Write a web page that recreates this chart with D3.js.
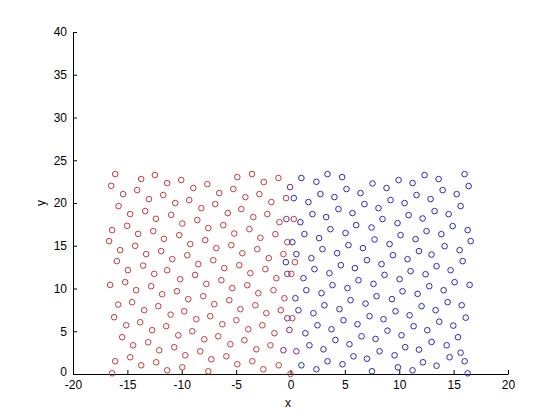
<html>
  <head>
    <meta charset="utf-8">
    <title>particles x-y</title>
    <style>
      body { margin: 0; background: white; }
      text { font-family: "Liberation Sans", Arial, sans-serif; }
    </style>
  </head>
  <body>
    <script type="text/javascript" src="https://d3js.org/d3.v7.min.js"></script>
    <script type="text/javascript">

    // red group (left side)
    var redX = [-16.12,-12.47,-13.73,-11.34,-16.49,-15.39,-14.10,-11.70,-13.02,-15.81,-14.74,-13.36,-12.38,-10.97,-15.02,-16.40,-14.01,-12.62,-11.64,-16.68,
                -14.28,-15.66,-13.27,-11.89,-10.87,-15.97,-14.95,-13.55,-11.34,-10.05,-8.94,-7.65,-4.89,-3.54,-2.46,-6.55,-5.26,-4.15,-2.86,-10.60,
                -9.31,-8.20,-6.92,-4.52,-5.77,-3.42,-2.13,-9.95,-8.57,-7.56,-6.18,-3.78,-5.17,-10.23,-2.77,-7.84,-9.22,-6.82,-5.44,-3.05,
                -4.43,-9.49,-7.10,-8.48,-6.09,-4.71,-2.31,-1.11,-0.41,-1.76,0.30,-1.02,-1.39,-0.29,-0.65,-2.00,0.40,-12.53,-16.58,-15.20,
                -14.19,-12.81,-11.80,-15.85,-14.56,-13.45,-12.16,-16.22,-11.02,-15.11,-13.82,-12.72,-11.43,-15.48,-14.47,-13.08,-12.07,-16.12,-14.74,-13.73,
                -12.35,-11.34,-16.40,-8.78,-3.69,-10.14,-7.74,-6.36,-10.44,-5.35,-3.97,-2.96,-9.40,-8.02,-7.01,-5.63,-9.77,-4.61,-3.23,-2.22,
                -8.66,-7.38,-6.27,-4.98,-2.59,-3.88,-9.03,-10.32,-7.93,-6.64,-4.24,-5.53,-10.69,-8.30,-9.68,-3.14,-5.90,-7.28,-3.51,-9.95,
                -4.89,-7.56,-2.50,0.08,-1.30,-1.57,-0.56,-0.89,0.17,-1.48,-1.85,-1.08,0.00];
    var redY = [23.38,23.27,22.80,22.33,22.01,21.04,21.51,20.93,20.46,19.64,18.70,19.05,18.15,18.62,17.33,16.83,16.39,16.71,15.81,15.54,
                14.99,14.49,14.02,14.37,13.43,13.20,12.14,12.68,12.14,22.68,21.75,22.21,23.03,23.38,22.45,21.16,21.63,20.69,21.04,19.99,
                20.34,19.40,19.87,19.29,18.82,18.35,18.70,17.60,18.00,17.06,17.41,16.94,16.43,16.24,15.93,15.66,15.19,14.72,15.07,14.60,
                14.13,13.90,13.31,12.85,12.38,12.73,12.26,22.92,20.57,20.11,18.12,17.76,16.36,15.42,14.02,13.55,13.08,11.71,10.42,10.74,
                9.80,10.27,9.33,8.12,8.40,7.46,7.93,6.64,6.94,5.70,6.05,5.12,5.59,4.30,3.36,3.71,2.78,1.49,1.96,1.02,
                1.37,0.43,0.08,11.59,11.79,11.09,10.54,10.97,9.68,10.04,10.39,9.45,8.75,9.10,8.16,8.63,7.34,7.58,8.04,7.11,
                6.41,6.76,5.82,6.29,5.70,5.23,5.00,4.53,4.06,4.41,3.95,3.48,3.13,2.66,2.19,2.89,2.07,1.72,1.49,0.78,
                1.14,0.32,0.55,11.71,11.21,9.80,8.86,7.46,6.52,4.77,3.36,1.02,0.00];

    // blue group (right side)
    var blueX = [1.00,2.38,3.40,4.75,5.15,6.44,2.75,4.04,0.30,1.65,4.41,5.70,2.02,3.28,0.91,6.04,3.67,5.06,1.28,2.63,
                 0.17,5.33,6.66,2.94,4.29,0.54,1.92,-0.43,4.63,5.92,2.20,7.54,8.83,9.94,11.22,12.33,13.62,16.01,16.38,13.99,
                 15.28,11.59,12.88,6.80,9.20,10.49,8.09,15.64,13.25,10.86,12.15,14.54,8.46,14.91,9.84,7.45,12.51,16.29,13.87,10.12,
                 7.73,11.50,16.57,14.17,9.11,12.97,11.81,9.42,15.55,7.03,10.76,8.37,15.83,13.43,14.72,3.58,1.19,6.25,3.86,5.24,
                 1.46,2.85,0.45,5.52,3.12,0.73,2.11,4.50,4.87,2.48,6.16,1.37,3.77,6.53,4.13,1.74,5.42,3.03,5.79,3.40,
                 1.00,2.38,4.78,8.65,10.03,11.04,12.42,7.63,12.76,15.09,16.47,10.30,11.69,14.08,7.91,9.33,6.90,12.05,14.45,15.74,
                 9.66,13.34,10.95,7.27,8.55,16.11,13.68,11.32,14.97,8.92,12.58,10.21,7.82,15.40,12.97,14.36,10.55,11.81,8.19,15.64,
                 9.57,14.63,7.03,12.18,16.01,13.43,9.88,11.22,7.49,16.29];
    var blueY = [22.92,22.48,23.38,23.03,21.63,21.16,21.04,20.69,20.57,20.11,19.29,18.82,18.70,18.35,17.76,17.41,16.94,16.48,16.36,15.89,
                 15.42,15.07,14.72,14.60,14.13,14.02,13.55,13.08,12.73,12.38,12.26,22.28,21.75,22.68,22.33,23.27,22.80,23.38,21.98,21.51,
                 21.04,20.93,20.46,19.87,20.34,19.99,19.40,19.64,19.05,18.58,18.19,18.70,18.12,17.30,17.65,17.13,16.71,16.83,16.36,16.24,
                 15.73,15.77,15.54,14.95,15.19,13.97,14.37,13.90,14.49,13.31,13.43,12.85,13.20,12.61,12.14,11.79,11.21,10.97,10.39,10.04,
                 9.80,9.45,8.86,8.63,8.04,7.46,7.11,7.58,6.29,5.70,5.82,4.77,5.23,4.41,3.98,3.36,3.48,2.89,2.07,1.49,
                 1.02,0.55,1.14,11.59,11.09,12.03,11.67,10.54,10.27,10.74,10.42,9.68,9.37,9.80,9.10,8.75,8.23,7.93,8.40,8.04,
                 7.34,7.46,6.87,6.76,6.41,6.59,6.12,5.59,5.66,5.07,5.12,4.53,4.10,4.30,3.75,3.36,3.13,2.85,2.66,2.49,
                 2.19,1.96,1.79,1.37,1.49,0.97,0.78,0.43,0.32,0.08];

    // points on the interface that came out purple
    var mixX = [-0.04,-0.38,-0.29,-0.29,-0.10,-0.65,0.54];
    var mixY = [21.86,18.12,11.71,6.52,5.15,2.78,2.66];

    var xTicks = [-20,-15,-10,-5,0,5,10,15,20];
    var yTicks = [0,5,10,15,20,25,30,35,40];

    var w = 560;
    var h = 420;
    var margin = {top: 32, right: 52, bottom: 46, left: 73};

    var svg = d3.select("body")
                .append("svg")
                .attr("width", w)
                .attr("height", h)
                .style("background", "white");

    var xScale = d3.scaleLinear()
                   .domain([-20, 20])
                   .range([margin.left, w - margin.right]);
    var yScale = d3.scaleLinear()
                   .domain([0, 40])
                   .range([h - margin.bottom, margin.top]);

    // plain hyphen for negatives, like the original
    var fmt = function(d) { return String(d); };

    var xAxis = d3.axisBottom(xScale)
                  .tickValues(xTicks)
                  .tickFormat(fmt)
                  .tickSizeInner(-4)
                  .tickSizeOuter(0)
                  .tickPadding(6);
    var yAxis = d3.axisLeft(yScale)
                  .tickValues(yTicks)
                  .tickFormat(fmt)
                  .tickSizeInner(-4)
                  .tickSizeOuter(0)
                  .tickPadding(6);

    var gx = svg.append("g")
                .attr("transform", "translate(0," + (h - margin.bottom) + ")")
                .call(xAxis);
    var gy = svg.append("g")
                .attr("transform", "translate(" + margin.left + ",0)")
                .call(yAxis);

    svg.selectAll(".tick text")
       .style("font-size", "12px")
       .style("font-family", "Liberation Sans, Arial, sans-serif")
       .attr("fill", "black");
    svg.selectAll(".domain, .tick line").attr("stroke", "black");

    // lift the y "0" a touch so it clears "-20"
    gy.selectAll(".tick text").filter(function(d) { return d === 0; }).attr("dy", "0.1em");

    svg.append("text")
       .attr("x", 288)
       .attr("y", 407)
       .attr("text-anchor", "middle")
       .style("font-size", "12px")
       .text("x");

    svg.append("text")
       .attr("transform", "translate(45,203) rotate(-90)")
       .attr("text-anchor", "middle")
       .style("font-size", "12px")
       .text("y");

    function drawGroup(xs, ys, colour) {
      var pts = xs.map(function(d, i) { return {x: d, y: ys[i]}; });
      svg.append("g")
         .selectAll("circle")
         .data(pts)
         .enter()
         .append("circle")
           .attr("cx", function(d) { return xScale(d.x); })
           .attr("cy", function(d) { return yScale(d.y); })
           .attr("r", 2.8)
           .attr("fill", "none")
           .attr("stroke", colour)
           .attr("stroke-width", 1);
    }

    drawGroup(redX, redY, "#c03c3c");
    drawGroup(blueX, blueY, "#2b2bb0");
    drawGroup(mixX, mixY, "#7a2a7a");

    </script>
  </body>
</html>
